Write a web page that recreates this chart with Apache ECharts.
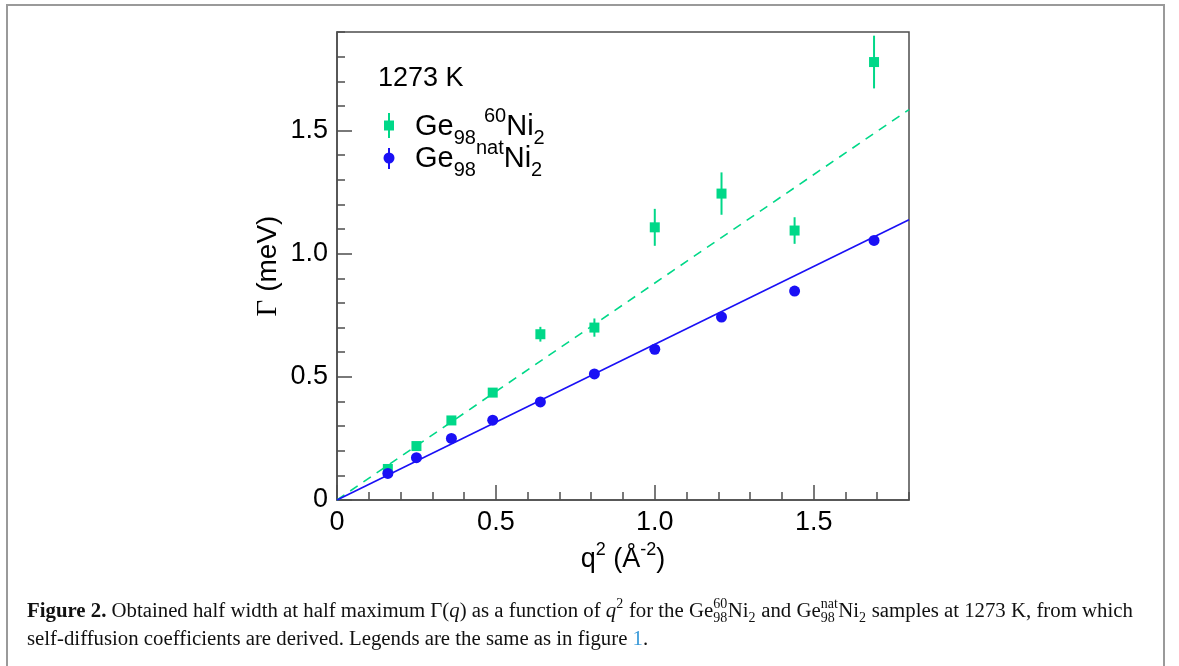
<!DOCTYPE html>
<html>
<head>
<meta charset="utf-8">
<script src="https://cdn.jsdelivr.net/npm/echarts@6/dist/echarts.min.js"></script>
<style>
html,body{margin:0;padding:0;background:#fff;}
#chart{width:1179px;height:666px;}
</style>
</head>
<body>
<div id="chart"></div>
<script>
// ---- data ----
const q2 = [0.16, 0.25, 0.36, 0.49, 0.64, 0.81, 1.00, 1.21, 1.44, 1.69];
const gamma60 = [0.126, 0.219, 0.323, 0.436, 0.673, 0.700, 1.107, 1.244, 1.094, 1.778];
const err60 = [0.010, 0.010, 0.012, 0.012, 0.030, 0.037, 0.075, 0.086, 0.054, 0.107];
const gammaNat = [0.108, 0.172, 0.250, 0.324, 0.398, 0.512, 0.612, 0.743, 0.848, 1.054];
const fit60 = [[0, 0], [1.8, 1.585]];
const fitNat = [[0, 0], [1.8, 1.138]];
const xTickLabels = ['0', '0.5', '1.0', '1.5'];
const yTickLabels = ['0', '0.5', '1.0', '1.5'];

const GREEN = '#00d888';
const BLUE = '#1a10f5';
const AXIS = '#4d4d4d';
const SANS = '"Liberation Sans", Arial, sans-serif';
const SERIF = '"Liberation Serif", "Times New Roman", serif';

const chart = echarts.init(document.getElementById('chart'), null, {renderer: 'canvas'});

const pts60 = q2.map((x, i) => [x, gamma60[i], err60[i]]);
const ptsNat = q2.map((x, i) => [x, gammaNat[i]]);

function fmt(list) {
  return function (v) {
    const i = Math.round(v / 0.5);
    return Math.abs(v - i * 0.5) < 1e-6 && list[i] !== undefined ? list[i] : '';
  };
}

// ---- caption layout helper (measures text widths) ----
const mctx = document.createElement('canvas').getContext('2d');
function measure(text, font) { mctx.font = font; return mctx.measureText(text).width; }
const CAP_SIZE = 20.8;
const capFont = (w, st) => (st || 'normal') + ' ' + (w || 'normal') + ' ' + CAP_SIZE + 'px ' + SERIF;
const smallFont = 'normal normal 14px ' + SERIF;
function layoutLine(segs, x0, yc) {
  const els = [];
  let x = x0;
  segs.forEach(s => {
    if (s.stack) {
      const w = Math.max(measure(s.stack[0], smallFont), measure(s.stack[1], smallFont));
      els.push({type: 'text', x: x, y: yc - 8, style: {text: s.stack[0], font: smallFont, fill: '#111', verticalAlign: 'middle', align: 'left'}});
      els.push({type: 'text', x: x, y: yc + 6, style: {text: s.stack[1], font: smallFont, fill: '#111', verticalAlign: 'middle', align: 'left'}});
      x += w + 0.5;
    } else if (s.sup || s.sub) {
      const t = s.sup || s.sub;
      els.push({type: 'text', x: x, y: yc + (s.sup ? -8 : 6), style: {text: t, font: smallFont, fill: '#111', verticalAlign: 'middle', align: 'left'}});
      x += measure(t, smallFont) + 0.5;
    } else {
      const f = capFont(s.bold ? 'bold' : 'normal', s.italic ? 'italic' : 'normal');
      els.push({type: 'text', x: x, y: yc, style: {text: s.t, font: f, fill: s.color || '#111', verticalAlign: 'middle', align: 'left'}});
      x += measure(s.t, f);
    }
  });
  return els;
}
const capLine1 = [
  {t: 'Figure 2.', bold: true},
  {t: ' Obtained half width at half maximum \u0393('},
  {t: 'q', italic: true},
  {t: ') as a function of '},
  {t: 'q', italic: true},
  {sup: '2'},
  {t: ' for the Ge'},
  {stack: ['60', '98']},
  {t: 'Ni'},
  {sub: '2'},
  {t: ' and Ge'},
  {stack: ['nat', '98']},
  {t: 'Ni'},
  {sub: '2'},
  {t: ' samples at 1273 K, from which'}
];
const capLine2 = [
  {t: 'self-diffusion coefficients are derived. Legends are the same as in figure '},
  {t: '1', color: '#3a9ad9'},
  {t: '.'}
];

const legendRich = {
  b: {fontSize: 29, fontFamily: SANS, color: '#000', lineHeight: 42},
  sub: {fontSize: 20, fontFamily: SANS, color: '#000', verticalAlign: 'bottom', lineHeight: 20},
  sup: {fontSize: 20, fontFamily: SANS, color: '#000', verticalAlign: 'top', lineHeight: 20}
};

const graphics = [
  // figure frame
  {type: 'polyline', shape: {points: [[7, 666], [7, 5], [1164, 5], [1164, 666]]}, style: {stroke: '#9a9a9a', lineWidth: 2, fill: null}, silent: true},
  // legend
  {type: 'text', x: 378, y: 79, style: {text: '1273 K', font: '27px ' + SANS, fill: '#000', verticalAlign: 'middle'}},
  {type: 'line', shape: {x1: 389, y1: 113, x2: 389, y2: 138}, style: {stroke: GREEN, lineWidth: 2}},
  {type: 'rect', shape: {x: 384, y: 120.5, width: 10, height: 10}, style: {fill: GREEN}},
  {type: 'text', x: 415, y: 127, style: {text: '{b|Ge}{sub|98}{b| }{sup|60}{b|Ni}{sub|2}', rich: legendRich, verticalAlign: 'middle'}},
  {type: 'line', shape: {x1: 389, y1: 148, x2: 389, y2: 169}, style: {stroke: BLUE, lineWidth: 2}},
  {type: 'circle', shape: {cx: 389, cy: 158, r: 5.5}, style: {fill: BLUE}},
  {type: 'text', x: 415, y: 159, style: {text: '{b|Ge}{sub|98}{sup|nat}{b|Ni}{sub|2}', rich: legendRich, verticalAlign: 'middle'}}
].concat(layoutLine(capLine1, 27, 612), layoutLine(capLine2, 27, 640));

const option = {
  animation: false,
  backgroundColor: '#fff',
  grid: {left: 337, right: 270, top: 32, bottom: 166, show: true, borderColor: AXIS, borderWidth: 1.5, backgroundColor: 'transparent', containLabel: false},
  xAxis: [
    {type: 'value', min: 0, max: 1.8, interval: 0.5, position: 'bottom',
      axisLine: {show: true, lineStyle: {color: AXIS, width: 1.5}},
      axisTick: {show: true, inside: true, length: 15, lineStyle: {color: AXIS, width: 1.5}},
      minorTick: {show: false},
      splitLine: {show: false},
      axisLabel: {formatter: fmt(xTickLabels), fontSize: 27, fontFamily: SANS, color: '#000', margin: 9, showMaxLabel: false},
      name: '{b|q}{sup|2}{b| (Å}{sup|-2}{b|)}', nameLocation: 'middle', nameGap: 38,
      nameTextStyle: {fontSize: 27, fontFamily: SANS, color: '#000', verticalAlign: 'top',
        rich: {
          b: {fontSize: 27, fontFamily: SANS, color: '#000', lineHeight: 38},
          sup: {fontSize: 18, fontFamily: SANS, color: '#000', verticalAlign: 'top', lineHeight: 18}
        }}},
    {type: 'value', min: 0, max: 1.8, interval: 0.1, position: 'bottom',
      axisLine: {show: false}, axisLabel: {show: false}, splitLine: {show: false},
      axisTick: {show: true, inside: true, length: 8, lineStyle: {color: AXIS, width: 1.5}}}
  ],
  yAxis: [
    {type: 'value', min: 0, max: 1.9, interval: 0.5, position: 'left',
      axisLine: {show: true, lineStyle: {color: AXIS, width: 1.5}},
      axisTick: {show: true, inside: true, length: 15, lineStyle: {color: AXIS, width: 1.5}},
      minorTick: {show: false},
      splitLine: {show: false},
      axisLabel: {formatter: fmt(yTickLabels), fontSize: 27, fontFamily: SANS, color: '#000', margin: 9, showMaxLabel: false},
      name: '{g|\u0393} (meV)', nameLocation: 'middle', nameGap: 54, nameRotate: 90,
      nameTextStyle: {fontSize: 28, fontFamily: SANS, color: '#000',
        rich: {g: {fontSize: 29, fontFamily: SERIF, color: '#000'}}}},
    {type: 'value', min: 0, max: 1.9, interval: 0.1, position: 'left',
      axisLine: {show: false}, axisLabel: {show: false}, splitLine: {show: false},
      axisTick: {show: true, inside: true, length: 8, lineStyle: {color: AXIS, width: 1.5}}}
  ],
  series: [
    {name: 'fit60', type: 'line', data: fit60, showSymbol: false, symbol: 'none', silent: true,
      lineStyle: {color: GREEN, width: 1.6, type: [9, 7]}, z: 2},
    {name: 'fitNat', type: 'line', data: fitNat, showSymbol: false, symbol: 'none', silent: true,
      lineStyle: {color: BLUE, width: 1.6}, z: 2},
    {name: 'err60', type: 'custom', data: pts60, z: 3,
      renderItem: function (params, api) {
        const x = api.value(0), y = api.value(1), e = api.value(2);
        const p1 = api.coord([x, y - e]), p2 = api.coord([x, y + e]);
        return {type: 'line', shape: {x1: p1[0], y1: p1[1], x2: p2[0], y2: p2[1]}, style: {stroke: GREEN, lineWidth: 2}};
      }},
    {name: 'Ge98 60Ni2', type: 'scatter', data: pts60.map(p => [p[0], p[1]]), symbol: 'rect', symbolSize: 10,
      itemStyle: {color: GREEN, opacity: 1}, z: 4},
    {name: 'Ge98 natNi2', type: 'scatter', data: ptsNat, symbol: 'circle', symbolSize: 11,
      itemStyle: {color: BLUE, opacity: 1}, z: 4}
  ],
  graphic: graphics
};
chart.setOption(option);
</script>
</body>
</html>
